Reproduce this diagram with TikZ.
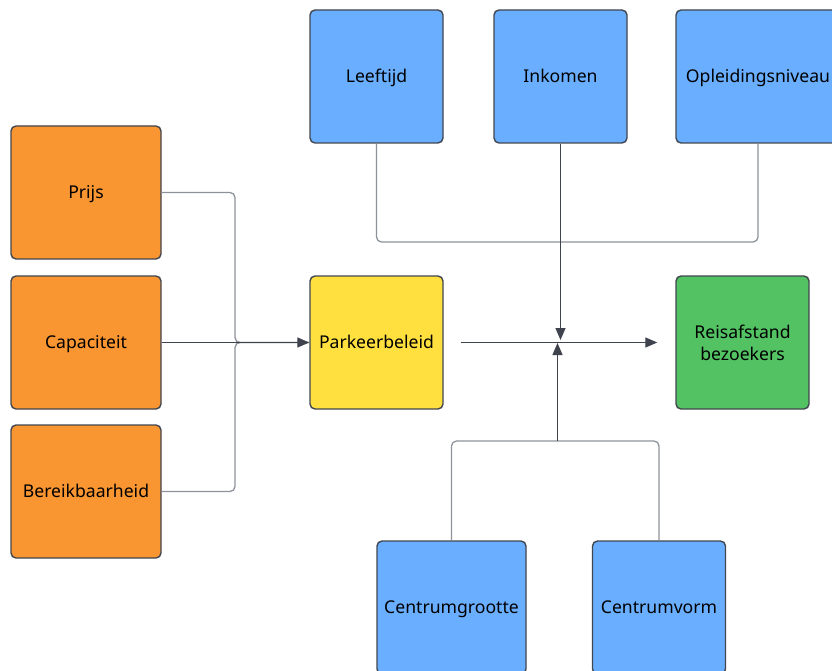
\documentclass[tikz,border=0pt]{standalone}
\usepackage{fontspec}
\setmainfont{Noto Sans}
\usetikzlibrary{arrows.meta}
\definecolor{orng}{HTML}{FA9632}
\definecolor{blu}{HTML}{6AAFFF}
\definecolor{yel}{HTML}{FFE03F}
\definecolor{grn}{HTML}{52C263}
\definecolor{bordr}{HTML}{41464F}
\definecolor{linegray}{HTML}{8E939B}
\definecolor{linedark}{HTML}{3E434D}
\begin{document}
\begin{tikzpicture}[x=1pt,y=-1pt,
  boxbase/.style={draw=bordr, line width=1.4pt, rounded corners=5pt, minimum width=133pt, minimum height=133pt, inner sep=2pt, align=center, text=black, font=\fontsize{17.6}{22}\selectfont},
  box/.style={boxbase, text height=12.6pt, text depth=0pt},
  branch/.style={draw=linegray, line width=1.3pt, rounded corners=5pt},
  mainln/.style={draw=linedark, line width=1.3pt},
  tip/.style={-{Triangle[length=12pt,width=10pt]}}
]
\useasboundingbox (0,0) rectangle (832,671);
\path[clip] (0,0) rectangle (832,671);
% nodes
\node[box, fill=orng, minimum width=150pt] (prijs) at (86,192.5) {Prijs};
\node[box, fill=orng, minimum width=150pt] (cap) at (86,342.5) {Capaciteit};
\node[box, fill=orng, minimum width=150pt] (ber) at (86,491.5) {Bereikbaarheid};
\node[box, fill=blu] (leef) at (376.5,76.5) {Leeftijd};
\node[box, fill=blu] (ink) at (560.5,76.5) {Inkomen};
\node[box, fill=blu, minimum width=164pt] (opl) at (758,76.5) {Opleidingsniveau};
\node[box, fill=yel] (park) at (376.5,342.5) {Parkeerbeleid};
\node[boxbase, fill=grn] (reis) at (742.5,342.5) {Reisafstand\\bezoekers};
\node[box, fill=blu, minimum width=149pt] (cgr) at (451.5,607.5) {Centrumgrootte};
\node[box, fill=blu] (cvm) at (659,607.5) {Centrumvorm};
% junction coordinates
\coordinate (lj) at (235,342.5);
\coordinate (topj) at (560.5,242);
\coordinate (hubt) at (560.5,340);
\coordinate (botj) at (557.5,441);
\coordinate (hubb) at (557.5,343);
% left inputs
\draw[branch] (prijs.east) -| (lj) -- (park.west);
\draw[branch] (ber.east) -| (lj) -- (park.west);
\draw[mainln, tip] (cap.east) -- (park.west);
% main line
\draw[mainln, tip, shorten <=17pt, shorten >=18pt] (park.east) -- (reis.west);
% top inputs
\draw[branch] (leef.south) |- (topj);
\draw[branch] (opl.south) |- (topj);
\draw[mainln, tip] (ink.south) -- (hubt);
% bottom inputs
\draw[branch] (cgr.north) |- (botj);
\draw[branch] (cvm.north) |- (botj);
\draw[mainln, tip] (botj) -- (hubb);
\end{tikzpicture}
\end{document}
